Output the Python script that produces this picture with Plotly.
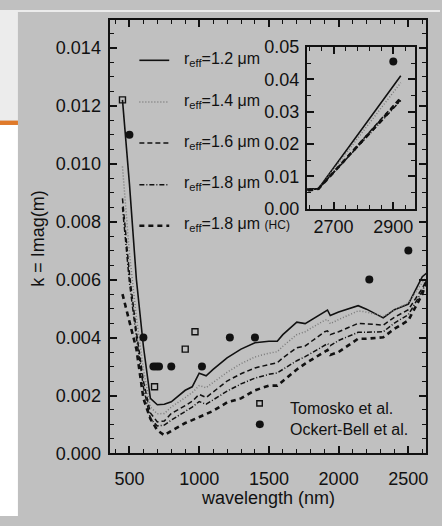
import plotly.graph_objects as go

# ---------------- data ----------------
wavelength = [450, 500, 550, 600, 650, 700, 750, 800, 900, 950, 1000, 1050, 1100,
              1200, 1300, 1400, 1500, 1560, 1600, 1700, 1760, 1900, 1920, 1940,
              2000, 2140, 2200, 2320, 2400, 2500, 2600, 2650, 2925]

k_reff_12 = [0.0122, 0.0093, 0.0060, 0.0037, 0.0019, 0.00168, 0.0017, 0.00178, 0.00218,
             0.0023, 0.00277, 0.00268, 0.0029, 0.0033, 0.0036, 0.00382, 0.00387, 0.00387,
             0.0041, 0.00453, 0.00448, 0.0049, 0.00495, 0.00476, 0.00488, 0.0051, 0.00498,
             0.00468, 0.00496, 0.00515, 0.0061, 0.0063, 0.0411]
k_reff_14 = [0.0099, 0.0069, 0.0047, 0.0029, 0.0016, 0.00137, 0.00138, 0.0016, 0.00193,
             0.0021, 0.00234, 0.00227, 0.00245, 0.0028, 0.0031, 0.00333, 0.00346, 0.00351,
             0.0037, 0.0041, 0.0042, 0.0046, 0.00462, 0.00448, 0.00462, 0.00492, 0.00488,
             0.00473, 0.00495, 0.0052, 0.0059, 0.0062, 0.039]
k_reff_16 = [0.0088, 0.0062, 0.0042, 0.0025, 0.0014, 0.00109, 0.00112, 0.00138, 0.00165,
             0.0018, 0.00204, 0.00193, 0.00212, 0.0025, 0.00275, 0.00295, 0.00307, 0.00313,
             0.0033, 0.00365, 0.00371, 0.0042, 0.00423, 0.0041, 0.0042, 0.00449, 0.00447,
             0.00443, 0.0047, 0.00496, 0.0057, 0.0062, 0.0345]
k_reff_18 = [0.0085, 0.0059, 0.0040, 0.0023, 0.0012, 0.00095, 0.00098, 0.00115, 0.00145,
             0.0016, 0.00179, 0.0017, 0.00185, 0.00215, 0.0024, 0.0026, 0.00273, 0.00278,
             0.0029, 0.0032, 0.00334, 0.00375, 0.00379, 0.00372, 0.0039, 0.00418, 0.00418,
             0.0042, 0.0045, 0.00479, 0.0056, 0.0062, 0.0335]
k_reff_18_hc = [0.0055, 0.0046, 0.0036, 0.0019, 0.0012, 0.0008, 0.00063, 0.00078, 0.00105,
                0.00115, 0.00125, 0.00135, 0.00147, 0.00176, 0.0019, 0.00218, 0.00234, 0.00234,
                0.0025, 0.0029, 0.0031, 0.0035, 0.00357, 0.0034, 0.0035, 0.00396, 0.00396,
                0.00401, 0.0043, 0.00459, 0.0055, 0.0062, 0.034]

tomasko_wl = [450, 680, 900, 970]
tomasko_k = [0.0122, 0.0023, 0.0036, 0.0042]

ockert_wl = [500, 600, 672, 692, 712, 800, 1020, 1220, 1400, 2220, 2500, 2900]
ockert_k = [0.011, 0.004, 0.003, 0.003, 0.003, 0.003, 0.003, 0.004, 0.004, 0.006, 0.007, 0.0455]

series_labels = ["r<sub>eff</sub>=1.2 μm", "r<sub>eff</sub>=1.4 μm", "r<sub>eff</sub>=1.6 μm",
                 "r<sub>eff</sub>=1.8 μm",
                 "r<sub>eff</sub>=1.8 μm <span style='font-size:12px'>(HC)</span>"]
obs_labels = ["Tomosko et al.", "Ockert-Bell et al."]

x_ticks_main = [500, 1000, 1500, 2000, 2500]
y_ticks_main = [0.000, 0.002, 0.004, 0.006, 0.008, 0.010, 0.012, 0.014]
x_ticks_inset = [2700, 2900]
y_ticks_inset = [0.00, 0.01, 0.02, 0.03, 0.04, 0.05]

# ---------------- styles ----------------
W, H = 442, 526
INK = "#111111"
FONT = "Liberation Sans, Arial, sans-serif"
styles = [
    dict(color=INK, width=1.6, dash="solid"),
    dict(color="#7a7a7a", width=1.5, dash="1px,2px"),
    dict(color=INK, width=1.5, dash="5px,3px"),
    dict(color=INK, width=1.5, dash="5px,2px,1px,2px"),
    dict(color=INK, width=2.6, dash="5px,4px"),
]
series = [k_reff_12, k_reff_14, k_reff_16, k_reff_18, k_reff_18_hc]

def px(x):
    return x / W

def py(y):
    return 1 - y / H

fig = go.Figure()
for ys, st in zip(series, styles):
    for xa, ya in (("x", "y"), ("x2", "y2")):
        fig.add_trace(go.Scatter(x=wavelength, y=ys, mode="lines", line=st,
                                 xaxis=xa, yaxis=ya, showlegend=False, hoverinfo="skip"))

fig.add_trace(go.Scatter(x=tomasko_wl, y=tomasko_k, mode="markers", showlegend=False,
                         marker=dict(symbol="square-open", size=6, color=INK,
                                     line=dict(width=1.4, color=INK)),
                         xaxis="x", yaxis="y"))
for xa, ya in (("x", "y"), ("x2", "y2")):
    fig.add_trace(go.Scatter(x=ockert_wl, y=ockert_k, mode="markers", showlegend=False,
                             marker=dict(symbol="circle", size=8, color=INK),
                             xaxis=xa, yaxis=ya))

axis_common = dict(showline=True, linecolor=INK, linewidth=2, mirror="allticks",
                   ticks="inside", ticklen=7, tickwidth=1.5, tickcolor=INK,
                   showgrid=False, zeroline=False,
                   tickfont=dict(family=FONT, size=18, color=INK))

fig.update_layout(
    width=W, height=H,
    margin=dict(l=0, r=0, t=0, b=0),
    paper_bgcolor="#c0c0c0",
    plot_bgcolor="rgba(0,0,0,0)",
    showlegend=False,
    xaxis=dict(domain=[px(110), px(428)], range=[357, 2627], anchor="y",
               tickvals=x_ticks_main, ticklabelstandoff=8,
               minor=dict(dtick=100, tick0=500, ticklen=4, tickwidth=1.2,
                          tickcolor=INK, ticks="inside", showgrid=False),
               **axis_common),
    yaxis=dict(domain=[py(461), py(10)], range=[0, 0.01497], anchor="x",
               tickvals=y_ticks_main, tickformat=".3f", ticklabelstandoff=3,
               minor=dict(dtick=0.0005, tick0=0, ticklen=4, tickwidth=1.2,
                          tickcolor=INK, ticks="inside", showgrid=False),
               **axis_common),
    xaxis2=dict(domain=[px(308.3), px(417.3)], range=[2611, 2974], anchor="y2",
                tickvals=x_ticks_inset, ticklabelstandoff=1,
                minor=dict(dtick=40, tick0=2700, ticklen=4, tickwidth=1.2,
                           tickcolor=INK, ticks="inside", showgrid=False),
                **axis_common),
    yaxis2=dict(domain=[py(206.7), py(38.5)], range=[0, 0.05], anchor="x2",
                tickvals=y_ticks_inset, tickformat=".2f", ticklabelstandoff=2,
                minor=dict(dtick=0.005, tick0=0, ticklen=4, tickwidth=1.2,
                           tickcolor=INK, ticks="inside", showgrid=False),
                **axis_common),
)

shapes = [
    # page decoration on the left / top
    dict(type="rect", xref="paper", yref="paper", x0=0, x1=px(18), y0=py(115), y1=1,
         fillcolor="#ececec", line=dict(width=0), layer="below"),
    dict(type="rect", xref="paper", yref="paper", x0=0, x1=px(18), y0=py(119.5), y1=py(115),
         fillcolor="#e07a2a", line=dict(width=0), layer="below"),
    dict(type="rect", xref="paper", yref="paper", x0=0, x1=px(18), y0=0, y1=py(119.5),
         fillcolor="#ffffff", line=dict(width=0), layer="below"),
    dict(type="rect", xref="paper", yref="paper", x0=0, x1=1, y0=py(2), y1=1,
         fillcolor="#ececec", line=dict(width=0), layer="below"),
]
rows = [52.3, 95.7, 138.3, 181.7, 224.3]
annotations = []
for r, st, lab in zip(rows, styles, series_labels):
    shapes.append(dict(type="line", xref="paper", yref="paper", x0=px(140), x1=px(170),
                       y0=py(r), y1=py(r), line=st))
    annotations.append(dict(xref="paper", yref="paper", x=px(183), y=py(r - 1),
                            xanchor="left", yanchor="middle", showarrow=False, text=lab,
                            font=dict(family=FONT, size=16, color=INK)))
# observation legend glyphs
shapes.append(dict(type="rect", xref="paper", yref="paper", x0=px(258), x1=px(263.5),
                   y0=py(411.7), y1=py(406.2), line=dict(color=INK, width=1.4)))
shapes.append(dict(type="circle", xref="paper", yref="paper", x0=px(257), x1=px(265),
                   y0=py(434.7), y1=py(426.7), fillcolor=INK, line=dict(color=INK, width=0)))
for yy, lab in zip([414, 436], obs_labels):
    annotations.append(dict(xref="paper", yref="paper", x=px(289), y=py(yy),
                            xanchor="left", yanchor="middle", showarrow=False, text=lab,
                            font=dict(family=FONT, size=16, color=INK)))
# axis titles
annotations.append(dict(xref="paper", yref="paper", x=px(269), y=py(507), showarrow=False,
                        text="wavelength (nm)", xanchor="center", yanchor="middle",
                        font=dict(family=FONT, size=18, color=INK)))
annotations.append(dict(xref="paper", yref="paper", x=px(38), y=py(237), showarrow=False,
                        text="k = Imag(m)", textangle=-90, xanchor="center", yanchor="middle",
                        font=dict(family=FONT, size=18, color=INK)))

fig.update_layout(shapes=shapes, annotations=annotations)
fig.write_html("out.html")
